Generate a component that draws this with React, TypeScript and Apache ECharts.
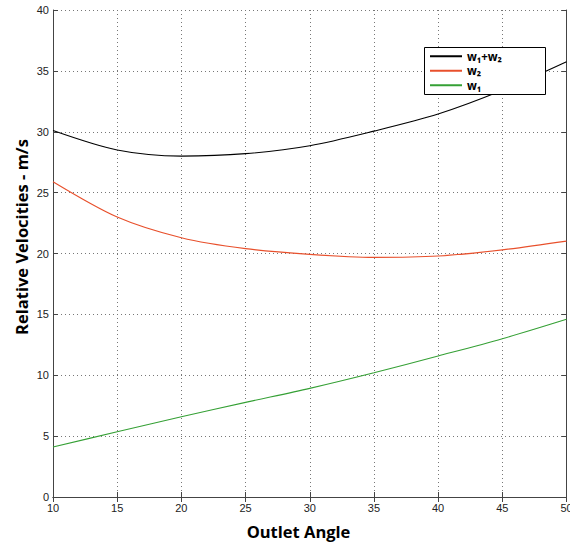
import React, { useEffect, useRef } from "react";
import * as echarts from "echarts";

const angles = [10, 15, 20, 25, 30, 35, 40, 45, 50];
const w1w2 = [30.1, 28.5, 28.0, 28.2, 28.85, 30.05, 31.45, 33.4, 35.75];
const w2 = [25.9, 23.0, 21.3, 20.4, 19.93, 19.68, 19.79, 20.3, 21.02];
const w1 = [4.1, 5.36, 6.59, 7.77, 8.92, 10.2, 11.58, 13.0, 14.6];
const seriesNames = ["w₁+w₂", "w₂", "w₁"];
const colors = ["#000000", "#e8502c", "#35a035"];
const xTitle = "Outlet Angle";
const yTitle = "Relative Velocities - m/s";

export default function App() {
  const ref = useRef<HTMLDivElement>(null);
  useEffect(() => {
    if (!ref.current) return;
    const chart = echarts.init(ref.current, undefined, { renderer: "svg" });
    const toPairs = (ys: number[]) => angles.map((a, i) => [a, ys[i]]);
    const axisLine = { show: true, lineStyle: { color: "#444", width: 1 } };
    const tickFont = { fontFamily: "Liberation Sans, Arial, sans-serif", fontSize: 11, color: "#222" };
    const titleFont = "bold 16.5px 'Open Sans', sans-serif";
    chart.setOption({
      animation: false,
      backgroundColor: "#ffffff",
      grid: { left: 53, right: 3.5, top: 10, bottom: 48, outerBoundsMode: "none", containLabel: false },
      legend: {
        orient: "vertical",
        left: 426,
        top: 49,
        padding: [1, 4, 1, 4],
        itemGap: 2,
        itemWidth: 32,
        itemHeight: 2,
        icon: "rect",
        z: 10,
        data: seriesNames,
        textStyle: { fontFamily: "Open Sans, sans-serif", fontSize: 11.5, fontWeight: "bold", color: "#000", lineHeight: 12.5 },
      },
      graphic: [
        {
          type: "rect",
          shape: { x: 424.5, y: 47.5, width: 121, height: 47 },
          style: { fill: "#fff", stroke: "#000", lineWidth: 1 },
          z: 5,
        },
        {
          type: "text",
          x: 298.5,
          y: 531,
          style: { text: xTitle, font: titleFont, fill: "#000", textAlign: "center", textVerticalAlign: "middle" },
        },
        {
          type: "text",
          x: 21,
          y: 237,
          rotation: Math.PI / 2,
          style: { text: yTitle, font: titleFont, fill: "#000", textAlign: "center", textVerticalAlign: "middle" },
        },
      ],
      xAxis: [
        {
          type: "value",
          min: 10,
          max: 50,
          interval: 5,
          axisLine,
          axisTick: { show: true, inside: true, length: 5, lineStyle: { color: "#444" } },
          axisLabel: { ...tickFont, margin: 5 },
          splitLine: { show: true, lineStyle: { color: "#777", type: [1, 3], width: 1 } },
        },
        {
          type: "value",
          position: "top",
          min: 10,
          max: 50,
          interval: 5,
          axisLine,
          axisTick: { show: true, inside: true, length: 5, lineStyle: { color: "#444" } },
          axisLabel: { show: false },
          splitLine: { show: false },
        },
      ],
      yAxis: [
        {
          type: "value",
          min: 0,
          max: 40,
          interval: 5,
          axisLine,
          axisTick: { show: true, inside: true, length: 5, lineStyle: { color: "#444" } },
          axisLabel: { ...tickFont, margin: 4 },
          splitLine: { show: true, lineStyle: { color: "#777", type: [1, 3], width: 1 } },
        },
        {
          type: "value",
          position: "right",
          min: 0,
          max: 40,
          interval: 5,
          axisLine,
          axisTick: { show: true, inside: true, length: 5, lineStyle: { color: "#444" } },
          axisLabel: { show: false },
          splitLine: { show: false },
        },
      ],
      series: [
        { name: seriesNames[0], type: "line", data: toPairs(w1w2), smooth: 0.3, showSymbol: false, symbol: "none", color: colors[0], lineStyle: { width: 1.1, color: colors[0] }, z: 2 },
        { name: seriesNames[1], type: "line", data: toPairs(w2), smooth: 0.3, showSymbol: false, symbol: "none", color: colors[1], lineStyle: { width: 1.1, color: colors[1] }, z: 2 },
        { name: seriesNames[2], type: "line", data: toPairs(w1), smooth: 0.3, showSymbol: false, symbol: "none", color: colors[2], lineStyle: { width: 1.1, color: colors[2] }, z: 2 },
      ],
    });
    return () => chart.dispose();
  }, []);
  return (
    <div
      ref={ref}
      style={{ position: "fixed", left: 0, top: 0, width: 570, height: 545, background: "#fff" }}
    />
  );
}
